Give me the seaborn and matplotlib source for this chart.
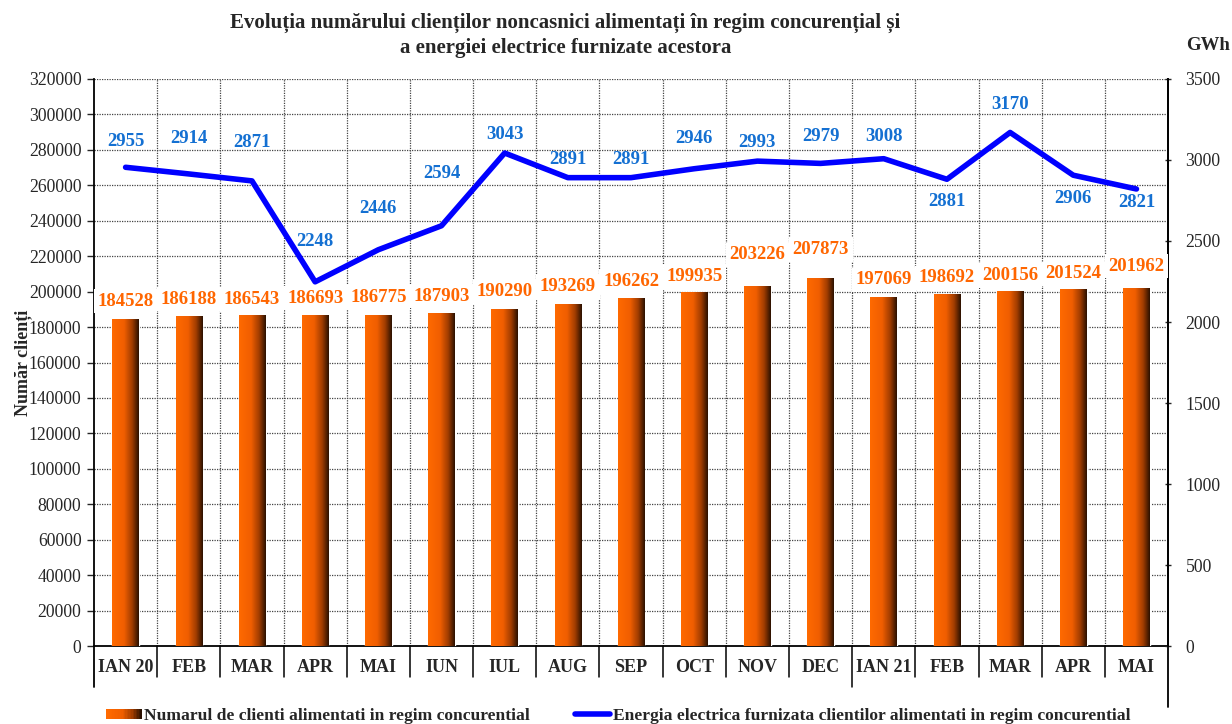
import numpy as np
import pandas as pd
import matplotlib
matplotlib.use("Agg")
import matplotlib.pyplot as plt
from matplotlib.colors import LinearSegmentedColormap
from matplotlib.lines import Line2D
from matplotlib.patches import Rectangle
from matplotlib.legend_handler import HandlerPatch
import seaborn as sns

months = ["IAN 20", "FEB", "MAR", "APR", "MAI", "IUN", "IUL", "AUG", "SEP",
          "OCT", "NOV", "DEC", "IAN 21", "FEB", "MAR", "APR", "MAI"]
clients = [184528, 186188, 186543, 186693, 186775, 187903, 190290, 193269, 196262,
           199935, 203226, 207873, 197069, 198692, 200156, 201524, 201962]
energy = [2955, 2914, 2871, 2248, 2446, 2594, 3043, 2891, 2891,
          2946, 2993, 2979, 3008, 2881, 3170, 2906, 2821]

sns.set_theme(style="white")
plt.rcParams["font.family"] = ["Liberation Serif", "DejaVu Serif"]

ORANGE = "#FF6600"
BLUE_LINE = "#0000FF"
BLUE_TEXT = "#1470D2"
grad_cmap = LinearSegmentedColormap.from_list(
    "bar_grad", [(0, "#FF6A00"), (0.45, "#F05E00"), (0.75, "#A03C00"), (1, "#2A1000")])

# vertical offsets (pixels) of the value labels from their marks
bar_label_dy = [18, 17, 16, 17, 18, 17, 17, 17, 17, 15, 31, 28, 17, 16, 16, 15, 22]
line_label_dy = [26, 35, 38, 40, 41, 52, 19, 18, 18, 30, 19, 27, 22, -22, 28, -23, -14]

fig = plt.figure(figsize=(12.32, 7.24), dpi=100)
ax = fig.add_axes([0.0763, 0.1077, 0.8718, 0.7832])

pos = np.arange(len(months))
df = pd.DataFrame({"pos": pos, "clients": clients})
sns.barplot(data=df, x="pos", y="clients", color=ORANGE, width=0.42,
            saturation=1, ax=ax, zorder=3)

# horizontal gradient inside each bar
grad = np.linspace(0, 1, 256).reshape(1, -1)
for patch in list(ax.patches):
    x0, y0 = patch.get_x(), patch.get_y()
    w, h = patch.get_width(), patch.get_height()
    im = ax.imshow(grad, cmap=grad_cmap, aspect="auto",
                   extent=[x0, x0 + w, y0, y0 + h], zorder=3.5)
    im.set_clip_path(patch)

ax.set_xlim(-0.5, len(months) - 0.5)
ax.set_ylim(0, 320000)
ax.set_yticks(np.arange(0, 320001, 20000))
ax.set_yticklabels([str(v) for v in range(0, 320001, 20000)], fontsize=12.7)
ax.set_xticks(pos)
ax.set_xticklabels(months, fontsize=13, fontweight="bold")
ax.tick_params(axis="x", length=0, pad=9)
ax.tick_params(axis="y", length=5, width=1, direction="out", left=True, pad=4)
ax.set_xlabel("")
ax.set_ylabel("Număr clienți", fontsize=13, fontweight="bold", labelpad=-2)

# dotted grid: horizontal at the left ticks, vertical at category edges
for v in range(20000, 320001, 20000):
    ax.axhline(v, color="#444444", lw=0.9, ls=(0, (1, 1)), zorder=1)
for b in np.arange(0.5, len(months) - 1, 1):
    ax.axvline(b, color="#444444", lw=0.9, ls=(0, (1, 1)), zorder=1)

ax.spines["top"].set_visible(False)
for s in ["left", "right", "bottom"]:
    ax.spines[s].set_color("black")
    ax.spines[s].set_linewidth(1.3)

# separators under the category labels
trans = ax.get_xaxis_transform()
for b in np.arange(0.5, len(months) - 1, 1):
    depth = -0.072 if b == 11.5 else -0.055
    ax.plot([b, b], [0, depth], transform=trans, color="black", lw=1.1,
            clip_on=False)
ax.plot([-0.5, -0.5], [0, -0.072], transform=trans, color="black", lw=1.3,
        clip_on=False)
ax.plot([len(months) - 0.5] * 2, [0, -0.108], transform=trans, color="black",
        lw=1.3, clip_on=False)

# energy line on the secondary axis
ax2 = ax.twinx()
sns.lineplot(x=pos, y=energy, color=BLUE_LINE, lw=4, ax=ax2, zorder=5,
             legend=False)
ax2.set_ylim(0, 3500)
ax2.set_yticks(np.arange(0, 3501, 500))
ax2.set_yticklabels([str(v) for v in range(0, 3501, 500)], fontsize=12.7)
ax2.tick_params(axis="y", length=5, width=1, direction="inout", right=True,
                pad=10)
for s in ["top", "left", "bottom"]:
    ax2.spines[s].set_visible(False)
ax2.spines["right"].set_color("black")
ax2.spines["right"].set_linewidth(1.3)
ax2.set_ylabel("")
ax2.grid(False)

# bar value labels (placed on the top axes so they sit above the line)
for p, c, dy in zip(pos, clients, bar_label_dy):
    ax2.annotate(str(c), (p, c), xycoords=ax.transData,
                 xytext=(0, dy * 0.72), textcoords="offset points",
                 ha="center", va="center", fontsize=13.5, fontweight="bold",
                 color=ORANGE, zorder=6,
                 bbox=dict(boxstyle="square,pad=0.2", fc="white", ec="none"))

for p, e, dy in zip(pos, energy, line_label_dy):
    ax2.annotate(str(e), (p, e), xytext=(0, dy * 0.72),
                 textcoords="offset points", ha="center", va="center",
                 fontsize=13.5, fontweight="bold", color=BLUE_TEXT, zorder=7)

fig.text(0.998, 0.937, "GWh", ha="right", va="center", fontsize=13.5,
         fontweight="bold")
fig.suptitle("Evoluția numărului clienților noncasnici alimentați în regim concurențial și\n"
             "a energiei electrice furnizate acestora",
             x=0.459, y=0.982, fontsize=15, fontweight="bold", linespacing=1.3)


class GradientHandler(HandlerPatch):
    def create_artists(self, legend, orig_handle, xdescent, ydescent, width,
                       height, fontsize, trans):
        arts = []
        n = 24
        for i in range(n):
            r = Rectangle((-xdescent + width * i / n, -ydescent + height * 0.1),
                          width / n + 0.3, height * 0.8,
                          color=grad_cmap(i / (n - 1)), lw=0, transform=trans)
            arts.append(r)
        return arts


bar_handle = Rectangle((0, 0), 1, 1, color=ORANGE)
line_handle = Line2D([0], [0], color=BLUE_LINE, lw=4)
fig.legend([bar_handle, line_handle],
           ["Numarul de clienti alimentati in regim concurential",
            "Energia electrica furnizata clientilor alimentati in regim concurential"],
           handler_map={Rectangle: GradientHandler()},
           loc="center", bbox_to_anchor=(0.502, 0.011), ncol=2, frameon=False,
           prop={"size": 12.6, "weight": "bold"}, handlelength=2.0,
           handletextpad=0.15, columnspacing=2.6)

fig.savefig("out.png", dpi=100)
